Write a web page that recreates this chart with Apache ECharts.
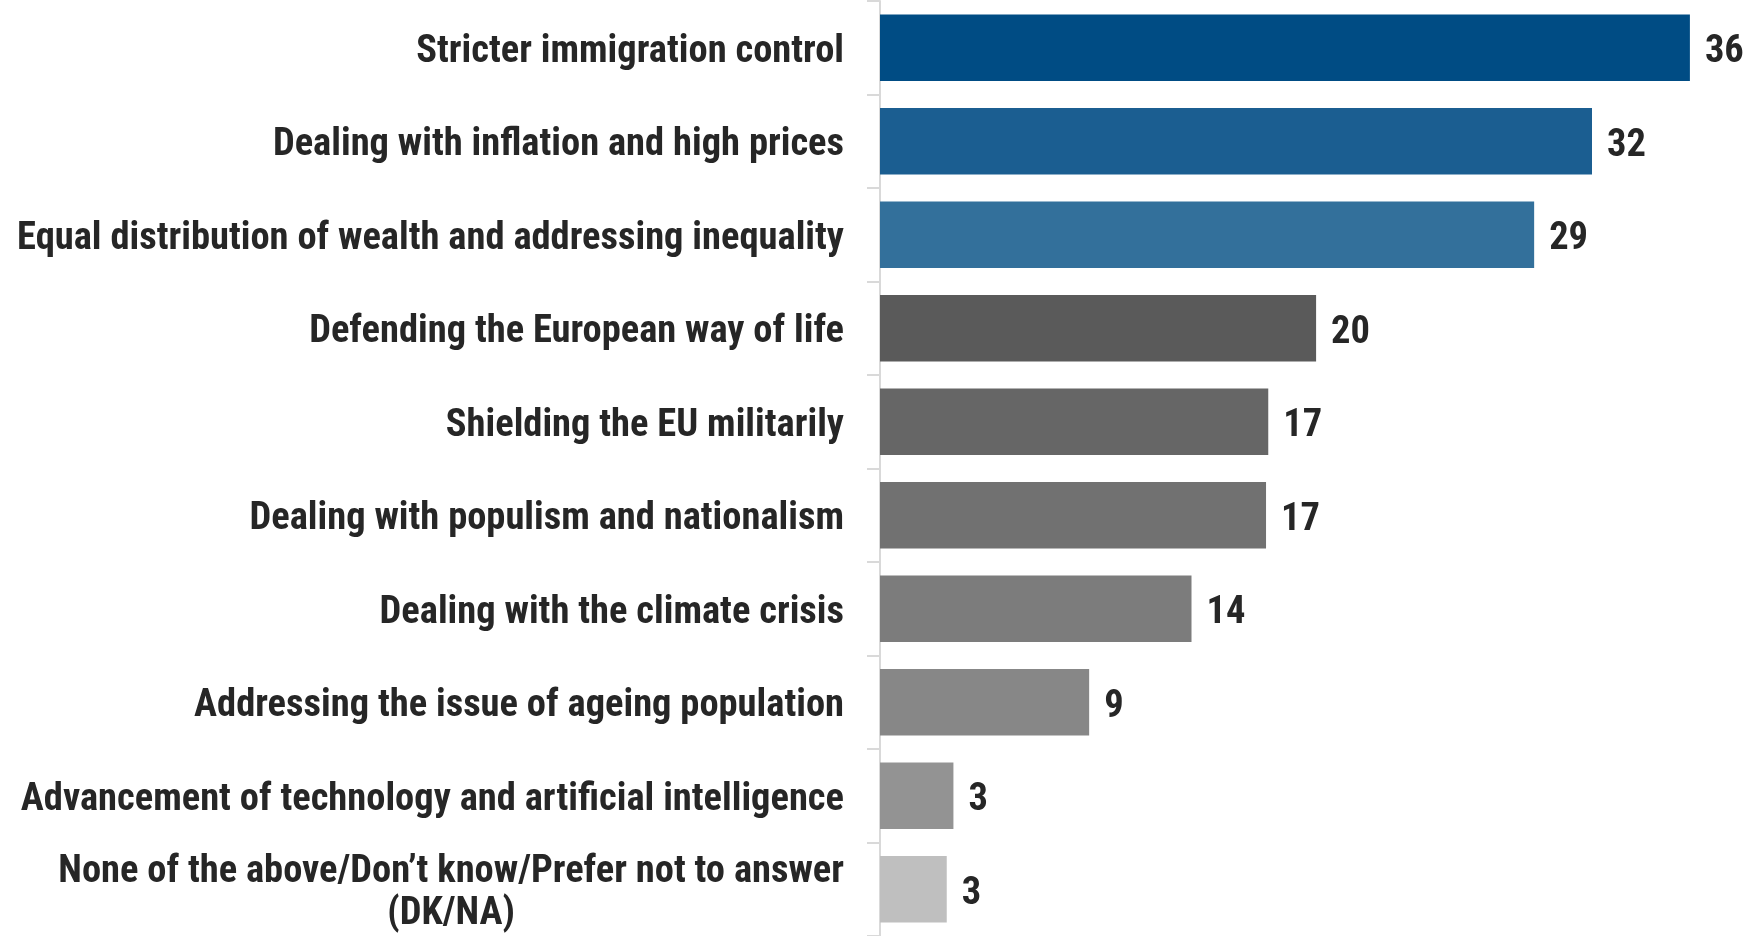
<!DOCTYPE html>
<html>
<head>
<meta charset="utf-8">
<script src="https://cdn.jsdelivr.net/npm/echarts@6/dist/echarts.min.js"></script>
<style>
html,body{margin:0;padding:0;background:#fff;}
#chart{width:1750px;height:936px;}
</style>
</head>
<body>
<div id="chart"></div>
<script>
const categories = [
  "Stricter immigration control",
  "Dealing with inflation and high prices",
  "Equal distribution of wealth and addressing inequality",
  "Defending the European way of life",
  "Shielding the EU militarily",
  "Dealing with populism and nationalism",
  "Dealing with the climate crisis",
  "Addressing the issue of ageing population",
  "Advancement of technology and artificial intelligence",
  "None of the above/Don\u2019t know/Prefer not to answer\n(DK/NA)"
];
const values = [36.4, 32.0, 29.4, 19.6, 17.45, 17.35, 14.0, 9.4, 3.3, 3.0];
const barColors = ["#004C84", "#1B5E91", "#33709B", "#5A5A5A", "#666666", "#717171", "#7C7C7C", "#878787", "#939393", "#BFBFBF"];

const FONT = '"Roboto Condensed", "Open Sans Condensed", sans-serif';
const FS = 38.5;
const TXT = '#262626';

const chart = echarts.init(document.getElementById('chart'), null, {renderer: 'canvas'});
chart.setOption({
  animation: false,
  backgroundColor: '#ffffff',
  grid: {left: 880, top: 1, height: 935, width: 845.5, containLabel: false, outerBoundsMode: 'none'},
  xAxis: {
    type: 'value', min: 0, max: 38,
    show: false
  },
  yAxis: {
    type: 'category',
    inverse: true,
    data: categories,
    axisLine: {show: true, lineStyle: {color: '#D9D9D9', width: 2}},
    axisTick: {show: true, length: 13, lineStyle: {color: '#D9D9D9', width: 2}},
    axisLabel: {
      margin: 36,
      padding: [9, 0, 0, 0],
      fontFamily: FONT, fontSize: FS, fontWeight: 'bold', color: TXT,
      formatter: function (v) {
        if (v.indexOf('\n') >= 0) {
          const parts = v.split('\n');
          return '{a|' + parts[0] + '}\n{c|' + parts[1] + '}';
        }
        return v;
      },
      rich: {
        a: {fontFamily: FONT, fontSize: FS, fontWeight: 'bold', color: TXT, lineHeight: 42, align: 'right'},
        c: {fontFamily: FONT, fontSize: FS, fontWeight: 'bold', color: TXT, lineHeight: 42, align: 'center'}
      }
    }
  },
  series: [{
    type: 'bar',
    data: values.map((v, i) => ({value: v, itemStyle: {color: barColors[i]}})),
    barCategoryGap: '29%',
    label: {
      show: true, position: 'right', distance: 15,
      offset: [0, 5],
      fontFamily: FONT, fontSize: FS, fontWeight: 'bold', color: TXT,
      formatter: p => Math.round(p.value)
    }
  }]
});
</script>
</body>
</html>
